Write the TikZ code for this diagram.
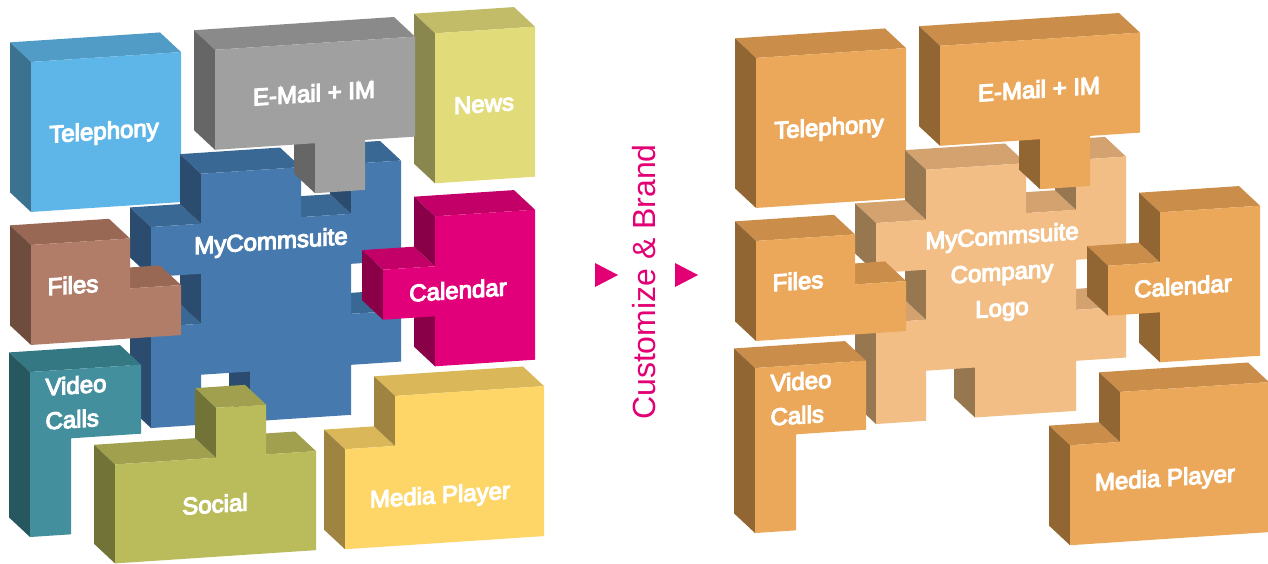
\documentclass[tikz,border=0pt]{standalone}
\usepackage{fontspec}
\setmainfont{Liberation Sans}
\newfontfamily\lblfont{Liberation Sans}
\newcommand\bolden[1]{\special{pdf:literal direct 2 Tr 1.1 w}#1\special{pdf:literal direct 0 Tr}}
\definecolor{telF}{HTML}{5EB6E8}\definecolor{telT}{HTML}{519CC6}\definecolor{telL}{HTML}{3B7290}
\definecolor{mailF}{HTML}{A0A0A0}\definecolor{mailT}{HTML}{8A8A8A}\definecolor{mailL}{HTML}{666666}
\definecolor{newsF}{HTML}{E2DB7A}\definecolor{newsT}{HTML}{C2BC69}\definecolor{newsL}{HTML}{8A874E}
\definecolor{blueF}{HTML}{4679AE}\definecolor{blueT}{HTML}{3A6894}\definecolor{blueL}{HTML}{2C4C6F}
\definecolor{calF}{HTML}{E2007A}\definecolor{calT}{HTML}{C30068}\definecolor{calL}{HTML}{8A0048}
\definecolor{fileF}{HTML}{B27D68}\definecolor{fileT}{HTML}{996854}\definecolor{fileL}{HTML}{6E4C3E}
\definecolor{vidF}{HTML}{438F9E}\definecolor{vidT}{HTML}{347884}\definecolor{vidL}{HTML}{27585F}
\definecolor{socF}{HTML}{BABC5C}\definecolor{socT}{HTML}{A0A04E}\definecolor{socL}{HTML}{727437}
\definecolor{medF}{HTML}{FDD667}\definecolor{medT}{HTML}{DAB85A}\definecolor{medL}{HTML}{9E8440}
\definecolor{orF}{HTML}{ECA85A}\definecolor{orT}{HTML}{CB8D4A}\definecolor{orL}{HTML}{916633}
\definecolor{ltF}{HTML}{F2BE85}\definecolor{ltT}{HTML}{D3A26F}\definecolor{ltL}{HTML}{977750}
\definecolor{mag}{HTML}{E20074}
% top face along v=#2 from u=#1 to u=#3 ; left face along u=#1 from v=#2 to v=#3
\newcommand\tf[3]{\fill[pt] (#1,#2) -- (#3,#2) -- (#3-21,#2-21) -- (#1-21,#2-21) -- cycle;}
\newcommand\lf[3]{\fill[pl] (#1,#2) -- (#1,#3) -- (#1-21,#3-21) -- (#1-21,#2-21) -- cycle;}
\newcommand\shTel{\tf{31}{64}{181}\lf{31}{64}{214}\fill[pf] (31,64) -- (181,64) -- (181,214) -- (31,214) -- cycle;}
\newcommand\shMail{\tf{215}{64}{415}\lf{215}{64}{164}\lf{315}{164}{214}\fill[pf] (215,64) -- (415,64) -- (415,164) -- (365,164) -- (365,214) -- (315,214) -- (315,164) -- (215,164) -- cycle;}
\newcommand\shNews{\tf{435}{62}{535}\lf{435}{62}{212}\fill[pf] (435,62) -- (535,62) -- (535,212) -- (435,212) -- cycle;}
\newcommand\shBlue{\tf{201}{187}{301}\tf{301}{237}{351}\tf{351}{187}{401}\tf{351}{337}{401}\tf{151}{337}{201}\tf{151}{237}{201}%
\lf{351}{187}{237}\lf{250}{388}{438}\lf{151}{337}{438}\lf{201}{287}{337}\lf{151}{237}{287}\lf{201}{187}{237}%
\fill[pf] (201,187) -- (301,187) -- (301,237) -- (351,237) -- (351,187) -- (401,187) -- (401,287) -- (351,287) -- (351,337) -- (401,337) -- (401,388) -- (351,388) -- (351,438) -- (250,438) -- (250,388) -- (201,388) -- (201,438) -- (151,438) -- (151,337) -- (201,337) -- (201,287) -- (151,287) -- (151,237) -- (201,237) -- cycle;}
\newcommand\shCal{\tf{435}{245}{535}\tf{383}{295}{435}\lf{435}{345}{395}\lf{383}{295}{345}\lf{435}{245}{295}\fill[pf] (435,245) -- (535,245) -- (535,395) -- (435,395) -- (435,345) -- (383,345) -- (383,295) -- (435,295) -- cycle;}
\newcommand\shFiles{\tf{31}{247}{130}\tf{130}{297}{181}\lf{31}{247}{347}\fill[pf] (31,247) -- (130,247) -- (130,297) -- (181,297) -- (181,347) -- (31,347) -- cycle;}
\newcommand\shVid{\tf{30}{374}{141}\lf{30}{374}{539}\fill[pf] (30,374) -- (141,374) -- (141,443) -- (71,443) -- (71,539) -- (30,539) -- cycle;}
\newcommand\shSoc{\tf{115}{472}{216}\tf{216}{422}{266}\tf{266}{472}{316}\lf{115}{472}{571}\lf{216}{422}{472}\fill[pf] (115,472) -- (216,472) -- (216,422) -- (266,422) -- (266,472) -- (316,472) -- (316,571) -- (115,571) -- cycle;}
\newcommand\shMed{\tf{345}{472}{395}\tf{395}{422}{544}\lf{345}{472}{572}\lf{395}{422}{472}\fill[pf] (345,472) -- (395,472) -- (395,422) -- (544,422) -- (544,572) -- (345,572) -- cycle;}
\newcommand\piece[2]{\begin{scope}[pf/.style={fill=#2F},pt/.style={fill=#2T},pl/.style={fill=#2L}]#1\end{scope}}
\tikzset{lbl/.style={text=white, font=\lblfont\fontsize{24}{34}\selectfont, yslant=0.066, inner sep=0pt, align=left}}
\begin{document}
\begin{tikzpicture}[x=1pt,y=-1pt]
\useasboundingbox (0,0) rectangle (1268,563);
\clip (0,0) rectangle (1268,563);
% left cluster
\begin{scope}[yslant=0.066]
\piece{\shNews}{news}
\piece{\shTel}{tel}
\piece{\shBlue}{blue}
\piece{\shMail}{mail}
\piece{\shFiles}{file}
\piece{\shCal}{cal}
\piece{\shVid}{vid}
\piece{\shSoc}{soc}
\piece{\shMed}{med}
\end{scope}
% right cluster
\begin{scope}[shift={(725,-4)}]
\begin{scope}[yslant=0.066]
\piece{\shTel}{or}
\piece{\shBlue}{lt}
\piece{\shMail}{or}
\piece{\shFiles}{or}
\piece{\shCal}{or}
\piece{\shVid}{or}
\piece{\shMed}{or}
\end{scope}
\end{scope}
% labels left
\node[lbl] (tL) at (104,133) {\bolden{Telephony}};
\node[lbl] (eL) at (314,93) {\bolden{E-Mail + IM}};
\node[lbl] (nL) at (484,104) {\bolden{News}};
\node[lbl] (mL) at (271,243) {\bolden{MyCommsuite}};
\node[lbl] (fL) at (73,285) {\bolden{Files}};
\node[lbl] (cL) at (458,290) {\bolden{Calendar}};
\node[lbl] (vL) at (76,402) {\bolden{Video\\Calls}};
\node[lbl] (sL) at (215,504) {\bolden{Social}};
\node[lbl] (pL) at (440,497) {\bolden{Media Player}};
% labels right
\node[lbl] (tR) at (829,129) {\bolden{Telephony}};
\node[lbl] (eR) at (1039,89) {\bolden{E-Mail + IM}};
\node[lbl, align=center, font=\lblfont\fontsize{24}{36}\selectfont] (mR) at (1002,274) {\bolden{MyCommsuite\\Company\\Logo}};
\node[lbl] (fR) at (798,281) {\bolden{Files}};
\node[lbl] (cR) at (1183,286) {\bolden{Calendar}};
\node[lbl] (vR) at (801,398) {\bolden{Video\\Calls}};
\node[lbl] (pR) at (1165,480) {\bolden{Media Player}};
% middle
\node[rotate=90, text=mag, font=\fontsize{32}{32}\selectfont, inner sep=0pt] (cb) at (644,282) {Customize \& Brand};
\fill[mag] (595,263) -- (618,275) -- (595,287) -- cycle;
\fill[mag] (675,263) -- (698,275) -- (675,287) -- cycle;
\end{tikzpicture}
\end{document}
